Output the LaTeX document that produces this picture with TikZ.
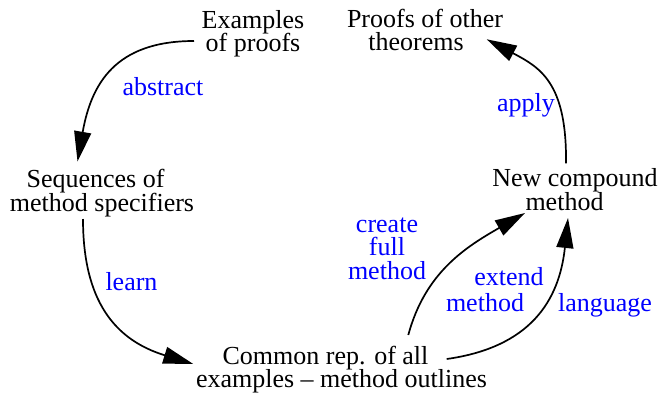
\documentclass[tikz,border=0pt]{standalone}
\usepackage{fontspec}
\setmainfont{Liberation Serif}
\usetikzlibrary{arrows.meta}
\lineskiplimit=-8pt\relax
\begin{document}
\begin{tikzpicture}[x=1pt,y=1pt,
  lab/.style={font=\fontsize{26}{23.5}\selectfont, inner sep=0pt, align=center},
  edgelab/.style={lab, text=blue},
  conn/.style={line width=1.7pt, -{Triangle[length=30pt,width=17pt]}}]
\useasboundingbox (0,0) rectangle (660,392);
\node[lab] (ex) at (253,358.4) {Examples\\of proofs};
\node[lab] (pr) at (425,362.2) {Proofs of other\\theorems\hbox to 18pt{}};
\node[lab] (seq) at (102,198.7) {Sequences of\hbox to 13pt{}\\method specifiers};
\node[lab] (new) at (575,202.2) {New compound\\method\hbox to 21pt{}};
\node[lab] (com) at (341.5,22.3) {Common rep. of all\hbox to 32pt{}\\examples – method outlines};
\node[edgelab, anchor=base] (lab1) at (163,297) {abstract};
\node[edgelab, anchor=base] (lab2) at (526,280.3) {apply};
\node[edgelab, anchor=base] (lab3) at (131.5,101.3) {learn};
\node[edgelab] (lab4) at (387,143.5) {create\\full\\method};
\node[edgelab, anchor=base] (lab5) at (509,107) {extend};
\node[edgelab, anchor=base] (lab6) at (485,80.3) {method};
\node[edgelab, anchor=base] (lab7) at (605,80.3) {language};
\draw[conn] ([shift={(-59,-7.4)}]ex.center) to[out=180,in=80,looseness=1.2] ([shift={(-24.5,31.8)}]seq.center);
\draw[conn] ([shift={(-19,-25.7)}]seq.center) to[out=-90,in=163,looseness=1.15] ([shift={(-148.2,5.7)}]com.center);
\draw[conn] ([shift={(66.8,34.7)}]com.center) to[out=75,in=210] ([shift={(-50,-23.2)}]new.center);
\draw[conn] ([shift={(105.2,10.7)}]com.center) to[out=8,in=264,looseness=1.15] ([shift={(-7,-28.2)}]new.center);
\draw[conn] ([shift={(-9,26.5)}]new.center) .. controls +(1,81) and +(53,-28) .. ([shift={(61.7,-9.5)}]pr.center);
\end{tikzpicture}
\end{document}
